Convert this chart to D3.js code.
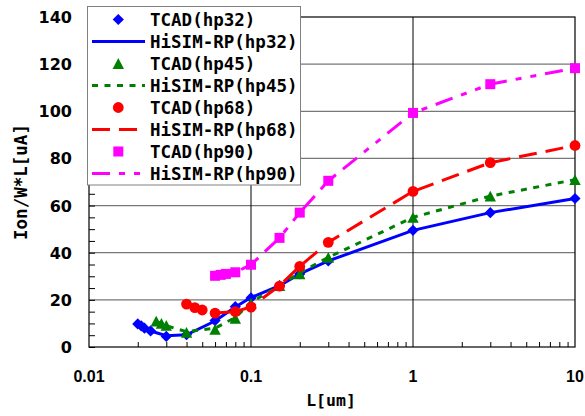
<!DOCTYPE html>
<html><head><meta charset="utf-8">
<script src="https://cdn.jsdelivr.net/npm/d3@7/dist/d3.min.js"></script>
<style>body{margin:0;background:#fff}</style>
</head><body>
<svg id="chart" width="585" height="416"></svg>
<script>
// ---- data ----
const xTicks = [0.01, 0.1, 1, 10];
const xTickLabels = ["0.01", "0.1", "1", "10"];
const yTicks = [0, 20, 40, 60, 80, 100, 120, 140];

const tcad32X = [0.020, 0.021, 0.022, 0.024, 0.03, 0.04, 0.06, 0.08, 0.1, 0.15, 0.2, 0.3, 1, 3, 10];
const tcad32Y = [9.8, 9.0, 8.0, 6.8, 4.5, 5.2, 11.2, 17.1, 20.8, 26, 31, 36.5, 49.5, 57, 63];
const hisim32X = [0.020, 0.022, 0.024, 0.03, 0.04, 0.06, 0.08, 0.1, 0.15, 0.2, 0.3, 1, 3, 10];
const hisim32Y = [9.5, 8.0, 6.8, 4.8, 5.2, 11.0, 17.0, 21.0, 26, 31, 36.5, 49.5, 57, 63];

const tcad45X = [0.026, 0.028, 0.03, 0.04, 0.06, 0.08, 0.1, 0.15, 0.2, 0.3, 1, 3, 10];
const tcad45Y = [11.0, 10.0, 9.2, 6.2, 7.5, 12.2, 18.6, 26, 31, 38, 55, 64, 71];
const hisim45X = [0.026, 0.028, 0.03, 0.04, 0.06, 0.08, 0.1, 0.15, 0.2, 0.3, 1, 3, 10];
const hisim45Y = [10.8, 10.0, 9.0, 6.5, 8.0, 12.5, 19.0, 26, 31.5, 38, 55, 64, 71];

const tcad68X = [0.04, 0.045, 0.05, 0.06, 0.08, 0.1, 0.15, 0.2, 0.3, 1, 3, 10];
const tcad68Y = [18.2, 16.7, 15.7, 14.4, 15.0, 16.9, 25.8, 34.2, 44.4, 66, 78.2, 85.5];
const hisim68X = [0.04, 0.045, 0.05, 0.06, 0.08, 0.1, 0.15, 0.2, 0.3, 1, 3, 10];
const hisim68Y = [18.0, 16.7, 15.7, 14.4, 15.0, 17.0, 26, 34.2, 44.4, 66, 78.2, 85.5];

const tcad90X = [0.06, 0.065, 0.07, 0.08, 0.1, 0.15, 0.2, 0.3, 1, 3, 10];
const tcad90Y = [30.2, 30.6, 31.0, 31.7, 34.9, 46.3, 57, 70.5, 99.3, 111.5, 118.3];
const hisim90X = [0.06, 0.065, 0.07, 0.08, 0.1, 0.15, 0.2, 0.3, 1, 3, 10];
const hisim90Y = [30.2, 30.6, 31.0, 31.7, 34.9, 46.3, 57, 70.5, 99.3, 111.5, 118.3];

const seriesNames = ["TCAD(hp32)", "HiSIM-RP(hp32)", "TCAD(hp45)", "HiSIM-RP(hp45)",
                     "TCAD(hp68)", "HiSIM-RP(hp68)", "TCAD(hp90)", "HiSIM-RP(hp90)"];

// ---- layout / style ----
const svg = d3.select("#chart");
const L = 89, R = 575, T = 17, B = 347;
const x = d3.scaleLog().domain([0.01, 10]).range([L, R]);
const y = d3.scaleLinear().domain([0, 140]).range([B, T]);

const series = [
  {name: seriesNames[0], type: "marker", shape: "diamond", color: "#0000FF", xs: tcad32X, ys: tcad32Y},
  {name: seriesNames[1], type: "line", dash: null, color: "#0000FF", xs: hisim32X, ys: hisim32Y},
  {name: seriesNames[2], type: "marker", shape: "triangle", color: "#008000", xs: tcad45X, ys: tcad45Y},
  {name: seriesNames[3], type: "line", dash: "6,6.5", color: "#008000", xs: hisim45X, ys: hisim45Y},
  {name: seriesNames[4], type: "marker", shape: "circle", color: "#FF0000", xs: tcad68X, ys: tcad68Y},
  {name: seriesNames[5], type: "line", dash: "18,9", color: "#FF0000", xs: hisim68X, ys: hisim68Y},
  {name: seriesNames[6], type: "marker", shape: "square", color: "#FF00FF", xs: tcad90X, ys: tcad90Y},
  {name: seriesNames[7], type: "line", dash: "18,9,6,9,6,9", color: "#FF00FF", xs: hisim90X, ys: hisim90Y}
];

function markerPath(shape, cx, cy) {
  if (shape === "diamond") { const h = 5.6; return `M${cx},${cy-h}L${cx+h},${cy}L${cx},${cy+h}L${cx-h},${cy}Z`; }
  if (shape === "triangle") { const w = 5.7, h = 5.4; return `M${cx},${cy-h}L${cx+w},${cy+h}L${cx-w},${cy+h}Z`; }
  if (shape === "square") { const s = 5; return `M${cx-s},${cy-s}H${cx+s}V${cy+s}H${cx-s}Z`; }
  const r = 5.4;
  return `M${cx+r},${cy}A${r},${r} 0 1,1 ${cx-r},${cy}A${r},${r} 0 1,1 ${cx+r},${cy}Z`;
}

// horizontal gridlines
svg.append("g").selectAll("line").data(yTicks.filter(v => v > 0 && v < 140)).join("line")
  .attr("x1", L).attr("x2", R).attr("y1", d => y(d)).attr("y2", d => y(d))
  .attr("stroke", "#777").attr("stroke-width", 1.3);
// vertical gridlines
svg.append("g").selectAll("line").data(xTicks.filter(v => v > 0.01 && v < 10)).join("line")
  .attr("y1", T).attr("y2", B).attr("x1", d => x(d)).attr("x2", d => x(d))
  .attr("stroke", "#000").attr("stroke-width", 1);

// minor ticks via axes (inward)
const minorX = [];
[0.01, 0.1, 1].forEach(dec => { for (let k = 2; k <= 9; k++) minorX.push(dec * k); });
const xAxis = d3.axisBottom(x).tickValues(minorX).tickSize(-5).tickFormat("");
svg.append("g").attr("transform", `translate(0,${B})`).call(xAxis)
  .call(g => g.select(".domain").remove())
  .call(g => g.selectAll("line").attr("stroke", "#000"));
const minorY = d3.range(0, 141, 5);
const yAxis = d3.axisLeft(y).tickValues(minorY).tickSize(-6).tickFormat("");
svg.append("g").attr("transform", `translate(${L},0)`).call(yAxis)
  .call(g => g.select(".domain").remove())
  .call(g => g.selectAll("line").attr("stroke", "#000"));

// frame
svg.append("rect").attr("x", L).attr("y", T).attr("width", R - L).attr("height", B - T)
  .attr("fill", "none").attr("stroke", "#000").attr("stroke-width", 1.2);

// tick labels
svg.append("g").selectAll("text").data(yTicks).join("text")
  .attr("x", 72).attr("y", d => y(d) + 6).attr("text-anchor", "end")
  .style("font-family", "'DejaVu Sans'").style("font-weight", "bold").style("font-size", "16px")
  .text(d => d);
svg.append("g").selectAll("text").data(xTicks).join("text")
  .attr("x", d => x(d)).attr("y", 381.5).attr("text-anchor", "middle")
  .style("font-family", "'Liberation Sans'").style("font-weight", "bold").style("font-size", "16px")
  .text((d, i) => xTickLabels[i]);

// axis titles
svg.append("text").attr("x", 331).attr("y", 406).attr("text-anchor", "middle")
  .style("font-family", "'DejaVu Sans Mono'").style("font-weight", "bold").style("font-size", "16.5px")
  .text("L[um]");
svg.append("text").attr("transform", "translate(27,182) rotate(-90)").attr("text-anchor", "middle")
  .style("font-family", "'DejaVu Sans Mono'").style("font-weight", "bold").style("font-size", "17.5px")
  .text("Ion/W*L[uA]");

// series
const plot = svg.append("g");
const lineGen = d3.line().x(d => x(d[0])).y(d => y(d[1]));
series.forEach(s => {
  const pts = s.xs.map((v, i) => [v, s.ys[i]]);
  if (s.type === "line") {
    plot.append("path").datum(pts).attr("d", lineGen).attr("fill", "none")
      .attr("stroke", s.color).attr("stroke-width", 3)
      .attr("stroke-dasharray", s.dash);
  } else {
    plot.append("g").selectAll("path").data(pts).join("path")
      .attr("d", d => markerPath(s.shape, x(d[0]), y(d[1]))).attr("fill", s.color);
  }
});

// legend
const leg = svg.append("g");
leg.append("rect").attr("x", 87.5).attr("y", 6.5).attr("width", 213).attr("height", 178.5)
  .attr("fill", "#fff").attr("stroke", "#808080").attr("stroke-width", 1);
series.forEach((s, i) => {
  const cy = 19.5 + i * 22;
  if (s.type === "line") {
    leg.append("line").attr("x1", 92).attr("x2", 145).attr("y1", cy).attr("y2", cy)
      .attr("stroke", s.color).attr("stroke-width", 3).attr("stroke-dasharray", s.dash);
  } else {
    leg.append("path").attr("d", markerPath(s.shape, 118.3, cy)).attr("fill", s.color);
  }
  leg.append("text").attr("x", 150).attr("y", cy + 6)
    .style("font-family", "'DejaVu Sans Mono'").style("font-weight", "bold").style("font-size", "17.5px")
    .text(s.name);
});
</script>
</body></html>
